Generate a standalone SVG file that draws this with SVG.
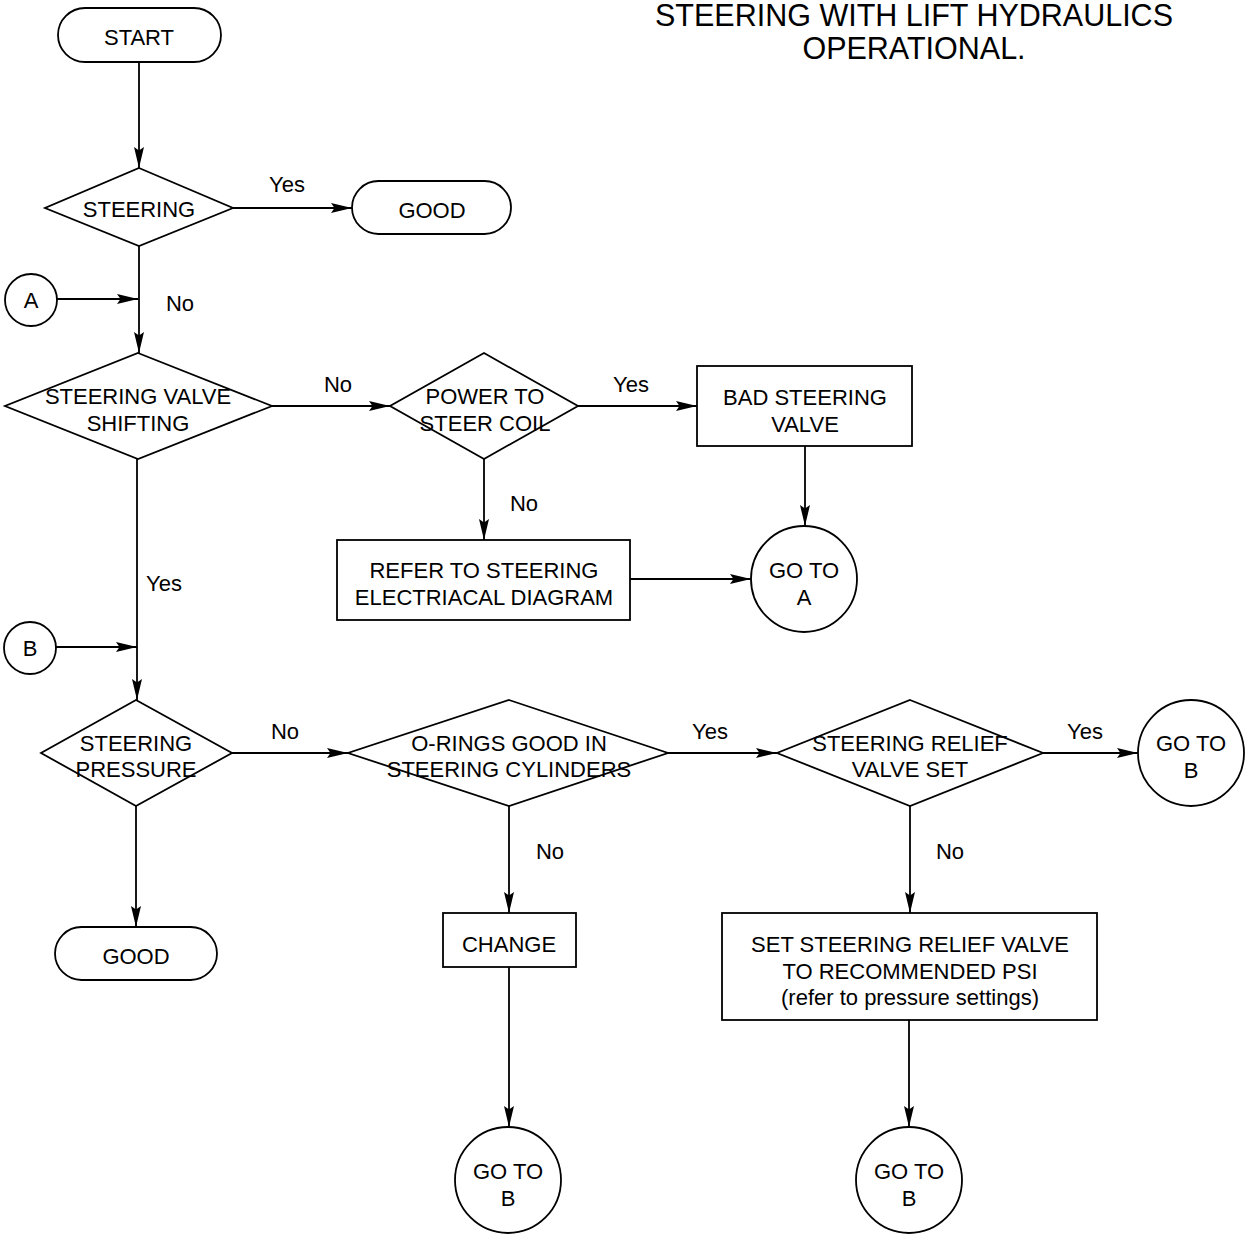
<svg xmlns="http://www.w3.org/2000/svg" width="1245" height="1244" viewBox="0 0 1245 1244">
<defs>
<marker id="arr" markerUnits="userSpaceOnUse" markerWidth="22" markerHeight="12" refX="21" refY="6" orient="auto">
<path d="M0,1 L21,6 L0,11 L3.5,6 z" fill="#000"/>
</marker>
<style>
.s{fill:#fff;stroke:#000;stroke-width:1.8}
.c{fill:none;stroke:#000;stroke-width:1.8;marker-end:url(#arr)}
text{font-family:"Liberation Sans",Arial,Helvetica,sans-serif;font-size:22px;fill:#000;text-anchor:middle}
.t{font-size:30.5px}
</style>
</defs>
<rect width="1245" height="1244" fill="#fff"/>

<g id="title">
<text class="t" x="914" y="26">STEERING WITH LIFT HYDRAULICS</text>
<text class="t" x="914" y="59">OPERATIONAL.</text>
</g>

<g id="connectors">
<path class="c" d="M139,60 V168"/>
<path class="c" d="M233,208 H352"/>
<path class="c" d="M139,245 V353"/>
<path class="c" d="M57,299 H138"/>
<path class="c" d="M272,406 H390"/>
<path class="c" d="M578,406 H697"/>
<path class="c" d="M805,446 V526"/>
<path class="c" d="M484,459 V540"/>
<path class="c" d="M630,579 H751"/>
<path class="c" d="M137,459 V700"/>
<path class="c" d="M56,647 H137"/>
<path class="c" d="M232,753 H348"/>
<path class="c" d="M668,753 H777"/>
<path class="c" d="M1043,753 H1138"/>
<path class="c" d="M136,806 V927"/>
<path class="c" d="M509,806 V913"/>
<path class="c" d="M910,806 V913"/>
<path class="c" d="M509,967 V1127"/>
<path class="c" d="M909,1020 V1127"/>
<text x="287" y="192">Yes</text>
<text x="180" y="311">No</text>
<text x="338" y="392">No</text>
<text x="631" y="392">Yes</text>
<text x="524" y="511">No</text>
<text x="164" y="591">Yes</text>
<text x="285" y="739">No</text>
<text x="710" y="739">Yes</text>
<text x="1085" y="739">Yes</text>
<text x="550" y="859">No</text>
<text x="950" y="859">No</text>
</g>

<g id="start">
<rect class="s" x="58" y="8" width="163" height="54" rx="27"/>
<text x="139" y="45">START</text>
</g>

<g id="steering">
<polygon class="s" points="139,168 233,208 139,246 45,208"/>
<text x="139" y="217">STEERING</text>
</g>

<g id="good1">
<rect class="s" x="352" y="181" width="159" height="53" rx="26.5"/>
<text x="432" y="218">GOOD</text>
</g>

<g id="connA">
<circle class="s" cx="31" cy="300" r="26"/>
<text x="31" y="308">A</text>
</g>

<g id="valveShifting">
<polygon class="s" points="138,353 272,406 138,459 5,406"/>
<text x="138" y="404">STEERING VALVE</text>
<text x="138" y="431">SHIFTING</text>
</g>

<g id="powerCoil">
<polygon class="s" points="484,353 578,406 484,459 390,406"/>
<text x="485" y="404">POWER TO</text>
<text x="485" y="431">STEER COIL</text>
</g>

<g id="badValve">
<rect class="s" x="697" y="366" width="215" height="80"/>
<text x="805" y="405">BAD STEERING</text>
<text x="805" y="432">VALVE</text>
</g>

<g id="referElec">
<rect class="s" x="337" y="540" width="293" height="80"/>
<text x="484" y="578">REFER TO STEERING</text>
<text x="484" y="605">ELECTRIACAL DIAGRAM</text>
</g>

<g id="gotoA">
<circle class="s" cx="804" cy="579" r="53"/>
<text x="804" y="578">GO TO</text>
<text x="804" y="605">A</text>
</g>

<g id="connB">
<circle class="s" cx="30" cy="648" r="26"/>
<text x="30" y="656">B</text>
</g>

<g id="pressure">
<polygon class="s" points="136,700 232,753 136,806 41,753"/>
<text x="136" y="751">STEERING</text>
<text x="136" y="777">PRESSURE</text>
</g>

<g id="orings">
<polygon class="s" points="509,700 668,753 509,806 348,753"/>
<text x="509" y="751">O-RINGS GOOD IN</text>
<text x="509" y="777">STEERING CYLINDERS</text>
</g>

<g id="reliefSet">
<polygon class="s" points="910,700 1043,753 910,806 777,753"/>
<text x="910" y="751">STEERING RELIEF</text>
<text x="910" y="777">VALVE SET</text>
</g>

<g id="gotoB1">
<circle class="s" cx="1191" cy="753" r="53"/>
<text x="1191" y="751">GO TO</text>
<text x="1191" y="778">B</text>
</g>

<g id="good2">
<rect class="s" x="55" y="927" width="162" height="53" rx="26.5"/>
<text x="136" y="964">GOOD</text>
</g>

<g id="change">
<rect class="s" x="443" y="913" width="133" height="54"/>
<text x="509" y="952">CHANGE</text>
</g>

<g id="setRelief">
<rect class="s" x="722" y="913" width="375" height="107"/>
<text x="910" y="952">SET STEERING RELIEF VALVE</text>
<text x="910" y="979">TO RECOMMENDED PSI</text>
<text x="910" y="1005">(refer to pressure settings)</text>
</g>

<g id="gotoB2">
<circle class="s" cx="508" cy="1180" r="53"/>
<text x="508" y="1179">GO TO</text>
<text x="508" y="1206">B</text>
</g>

<g id="gotoB3">
<circle class="s" cx="909" cy="1180" r="53"/>
<text x="909" y="1179">GO TO</text>
<text x="909" y="1206">B</text>
</g>
</svg>
